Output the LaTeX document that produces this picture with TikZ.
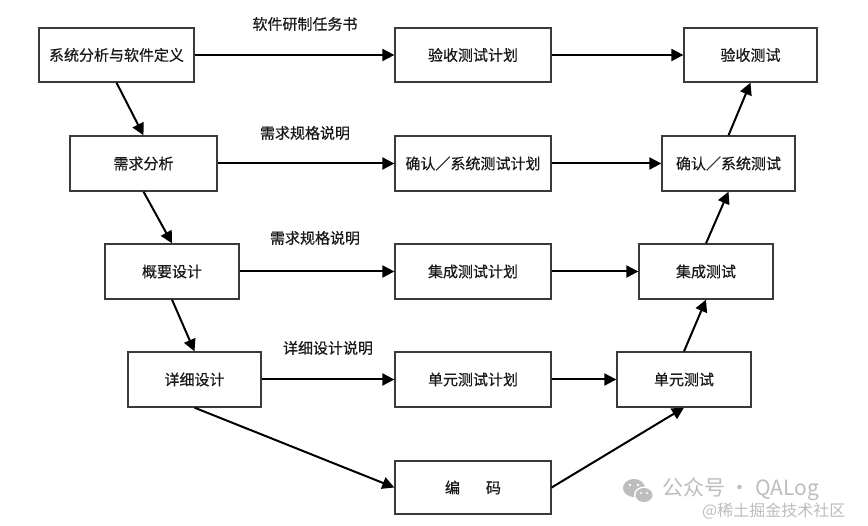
\documentclass[tikz,border=0pt]{standalone}
\usepackage{fontspec}
\newfontfamily\cjk{Noto Sans CJK SC}[FakeBold=0.6]
\newfontfamily\cjkwm{Noto Sans CJK SC}
\usetikzlibrary{arrows.meta}
\definecolor{ink}{HTML}{1A1A1A}
\definecolor{boxline}{HTML}{3A3A3A}
\definecolor{wm}{HTML}{BDBDBD}
\tikzset{
  box/.style={draw=boxline, line width=1.3pt, rectangle, inner sep=0pt, text=ink, font=\cjk\fontsize{15}{18}\selectfont},
  lbl/.style={text=ink, font=\cjk\fontsize{15}{18}\selectfont, inner sep=0pt},
  arr/.style={draw=black, line width=2pt, -{Triangle[length=12pt,width=12pt]}},
}
\begin{document}
\begin{tikzpicture}[x=1pt,y=-1pt]
\useasboundingbox[fill=white] (0,0) rectangle (868,526);
% left column
\node[box, minimum width=155pt, minimum height=54pt] (A) at (116.5,55) {系统分析与软件定义};
\node[box, minimum width=147pt, minimum height=55pt] (B) at (143.5,163.5) {需求分析};
\node[box, minimum width=134pt, minimum height=55pt] (C) at (172,271.5) {概要设计};
\node[box, minimum width=133pt, minimum height=55pt] (D) at (194.5,379.5) {详细设计};
% middle column
\node[box, minimum width=156pt, minimum height=54pt] (M1) at (473,55) {验收测试计划};
\node[box, minimum width=156pt, minimum height=55pt] (M2) at (473,163.5) {确认／系统测试计划};
\node[box, minimum width=156pt, minimum height=55pt] (M3) at (473,271.5) {集成测试计划};
\node[box, minimum width=156pt, minimum height=55pt] (M4) at (473,379.5) {单元测试计划};
\node[box, minimum width=156pt, minimum height=53pt] (E) at (473,487.5) {编\hspace{26pt}码};
% right column
\node[box, minimum width=133pt, minimum height=54pt] (R1) at (750.5,55) {验收测试};
\node[box, minimum width=133pt, minimum height=55pt] (R2) at (728.5,163.5) {确认／系统测试};
\node[box, minimum width=134pt, minimum height=55pt] (R3) at (706,271.5) {集成测试};
\node[box, minimum width=134pt, minimum height=55pt] (R4) at (684,379.5) {单元测试};
% labels
\node[lbl] (L1) at (305,24) {软件研制任务书};
\node[lbl] (L2) at (305,133) {需求规格说明};
\node[lbl] (L3) at (315,238) {需求规格说明};
\node[lbl] (L4) at (328,348) {详细设计说明};
% horizontal arrows
\draw[arr] (A.east) -- (M1.west);
\draw[arr] (B.east) -- (M2.west);
\draw[arr] (C.east) -- (M3.west);
\draw[arr] (D.east) -- (M4.west);
\draw[arr] (M1.east) -- (R1.west);
\draw[arr] (M2.east) -- (R2.west);
\draw[arr] (M3.east) -- (R3.west);
\draw[arr] (M4.east) -- (R4.west);
% diagonal arrows
\draw[arr] (A.south) -- (B.north);
\draw[arr] (B.south) -- (C.north);
\draw[arr] (C.south) -- (D.north);
\draw[arr] (D.south) -- (E.west);
\draw[arr] (E.east) -- (R4.south);
\draw[arr] (R4.north) -- (R3.south);
\draw[arr] (R3.north) -- (R2.south);
\draw[arr] (R2.north) -- (R1.south);
% watermark
\fill[wm] (634,488) ellipse (11pt and 9pt);
\fill[white] (644,495) ellipse (10pt and 8.5pt);
\fill[wm] (644,495) ellipse (8.5pt and 7pt);
\fill[white] (630,485) circle (1.4pt) (638,485) circle (1.4pt) (641,493) circle (1.1pt) (647,493) circle (1.1pt);
\node[text=wm, font=\cjkwm\fontsize{21}{24}\selectfont, anchor=west, inner sep=0pt] (W1) at (662,489) {公众号 · QALog};
\node[text=wm, font=\cjkwm\fontsize{16}{19}\selectfont, anchor=west, inner sep=0pt] (W2) at (702,511) {@稀土掘金技术社区};
\end{tikzpicture}
\end{document}
